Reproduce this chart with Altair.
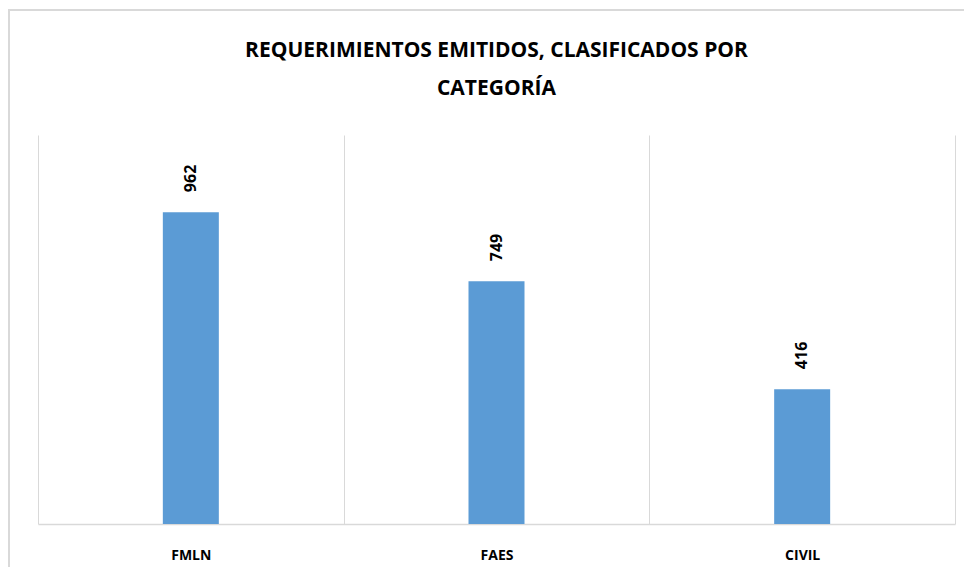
import altair as alt
import pandas as pd

categories = ["FMLN", "FAES", "CIVIL"]
values = [962, 749, 416]

df = pd.DataFrame({"categoria": categories, "valor": values})

base = alt.Chart(df).encode(
    x=alt.X(
        "categoria:N",
        sort=categories,
        title=None,
        scale=alt.Scale(paddingInner=0, paddingOuter=0),
        axis=alt.Axis(
            labelAngle=0,
            labelFont="Open Sans",
            labelFontWeight="bold",
            labelFontSize=14,
            labelColor="#000000",
            labelPadding=24,
            ticks=False,
            domainColor="#d9d9d9",
            domainWidth=1.5,
            grid=True,
            gridColor="#d9d9d9",
            gridWidth=1,
            tickBand="extent",
        ),
    ),
    y=alt.Y(
        "valor:Q",
        title=None,
        scale=alt.Scale(domain=[0, 1200], nice=False),
        axis=None,
    ),
)

bars = base.mark_bar(color="#5B9BD5", width=56)
labels = base.mark_text(
    angle=270,
    align="left",
    baseline="middle",
    dx=20,
    font="Open Sans",
    fontWeight="bold",
    fontSize=16,
    color="#000000",
).encode(text="valor:Q")

# outer chart frame (decoration only)
frame = alt.Chart(pd.DataFrame({"f": [0]})).mark_rect(
    fill=None, stroke="#d9d9d9", strokeWidth=2
).encode(
    x=alt.value(-29),
    x2=alt.value(960),
    y=alt.value(-125),
    y2=alt.value(480),
)

chart = (
    alt.layer(frame, bars, labels)
    .properties(
        width=917,
        height=389,
        title=alt.TitleParams(
            text=["REQUERIMIENTOS EMITIDOS, CLASIFICADOS POR", "CATEGORÍA"],
            font="Open Sans",
            fontSize=21,
            fontWeight="bold",
            color="#000000",
            anchor="middle",
            frame="group",
            lineHeight=38,
            offset=36,
            dy=126,
        ),
        autosize=alt.AutoSizeParams(type="none"),
        padding={"left": 30, "top": 127, "right": 9, "bottom": 43},
    )
    .configure(background="#ffffff")
    .configure_view(stroke=None)
)

chart.save("out.html", embed_options={"renderer": "svg", "actions": False})
